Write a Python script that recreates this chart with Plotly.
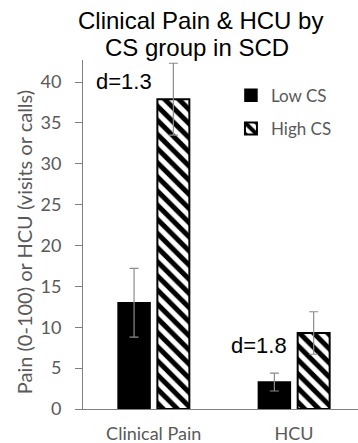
import plotly.graph_objects as go

categories = ["Clinical Pain", "HCU"]
low_cs = [13.0, 3.3]
low_cs_err = [4.2, 1.1]
high_cs = [37.9, 9.3]
high_cs_err = [4.4, 2.6]
series_names = ["Low CS", "High CS"]
y_ticks = [0, 5, 10, 15, 20, 25, 30, 35, 40]
effect_labels = ["d=1.3", "d=1.8"]
title_lines = ["Clinical Pain & HCU by", "CS group in SCD"]
y_title = "Pain (0-100) or HCU (visits or calls)"

gray = "#595959"
axis_gray = "#808080"
err_gray = "#8c8c8c"
sans = "Lato, Open Sans, sans-serif"
arial = "Liberation Sans, Arial, sans-serif"

fig = go.Figure()
fig.add_trace(go.Bar(
    x=categories, y=low_cs, name=series_names[0], legendgroup="a",
    marker=dict(color="black", line=dict(color="black", width=1.5)),
    error_y=dict(type="data", array=low_cs_err, color=err_gray, thickness=1.2, width=4.5),
))
fig.add_trace(go.Bar(
    x=categories, y=high_cs, name=series_names[1], legendgroup="b",
    marker=dict(color="white", line=dict(color="black", width=2),
                pattern=dict(shape="\\", fgcolor="black", bgcolor="white", size=10,
                             solidity=0.5, fgopacity=1)),
    error_y=dict(type="data", array=high_cs_err, color=err_gray, thickness=1.2, width=4.5),
))

# title (two lines, tight spacing)
fig.add_annotation(x=0.4255, y=1.112, xref="paper", yref="paper", text=title_lines[0],
                   showarrow=False, xanchor="center", yanchor="middle",
                   font=dict(family=arial, size=24, color="black"))
fig.add_annotation(x=0.4145, y=1.036, xref="paper", yref="paper", text=title_lines[1],
                   showarrow=False, xanchor="center", yanchor="middle",
                   font=dict(family=arial, size=24, color="black"))

# y-axis title
fig.add_annotation(x=-0.2145, y=0.478, xref="paper", yref="paper", text=y_title,
                   showarrow=False, textangle=-90, xanchor="center", yanchor="middle",
                   font=dict(family=sans, size=20, color=gray))

fig.add_annotation(x=0, y=40.1, xref="x", yref="y", text=effect_labels[0], showarrow=False,
                   xshift=-30, font=dict(family=arial, size=22, color="black"))
fig.add_annotation(x=1, y=7.8, xref="x", yref="y", text=effect_labels[1], showarrow=False,
                   xshift=-35, font=dict(family=arial, size=22, color="black"))

fig.update_layout(
    width=358, height=443,
    margin=dict(l=83, r=0, t=60, b=34),
    paper_bgcolor="white", plot_bgcolor="white",
    barmode="group", bargap=0.44, bargroupgap=0.186,
    showlegend=True,
    legend=dict(x=0.538, y=0.949, xref="paper", yref="paper", xanchor="left", yanchor="top",
                bgcolor="rgba(0,0,0,0)", traceorder="grouped", tracegroupgap=8,
                font=dict(family=sans, size=17, color=gray)),
    font=dict(family=sans, color=gray),
)
fig.update_xaxes(range=[-0.504, 1.456], showline=True, linecolor=axis_gray, linewidth=1,
                 ticks="", tickfont=dict(size=18, color=gray), ticklabelstandoff=8,
                 showgrid=False, zeroline=False)
fig.update_yaxes(range=[0, 42.7], tickvals=y_ticks, showline=True, linecolor=axis_gray, linewidth=1,
                 ticks="outside", ticklen=7, tickcolor=axis_gray, showgrid=False, zeroline=False,
                 tickfont=dict(size=18, color=gray), ticklabelstandoff=10)

fig.write_html("out.html")
